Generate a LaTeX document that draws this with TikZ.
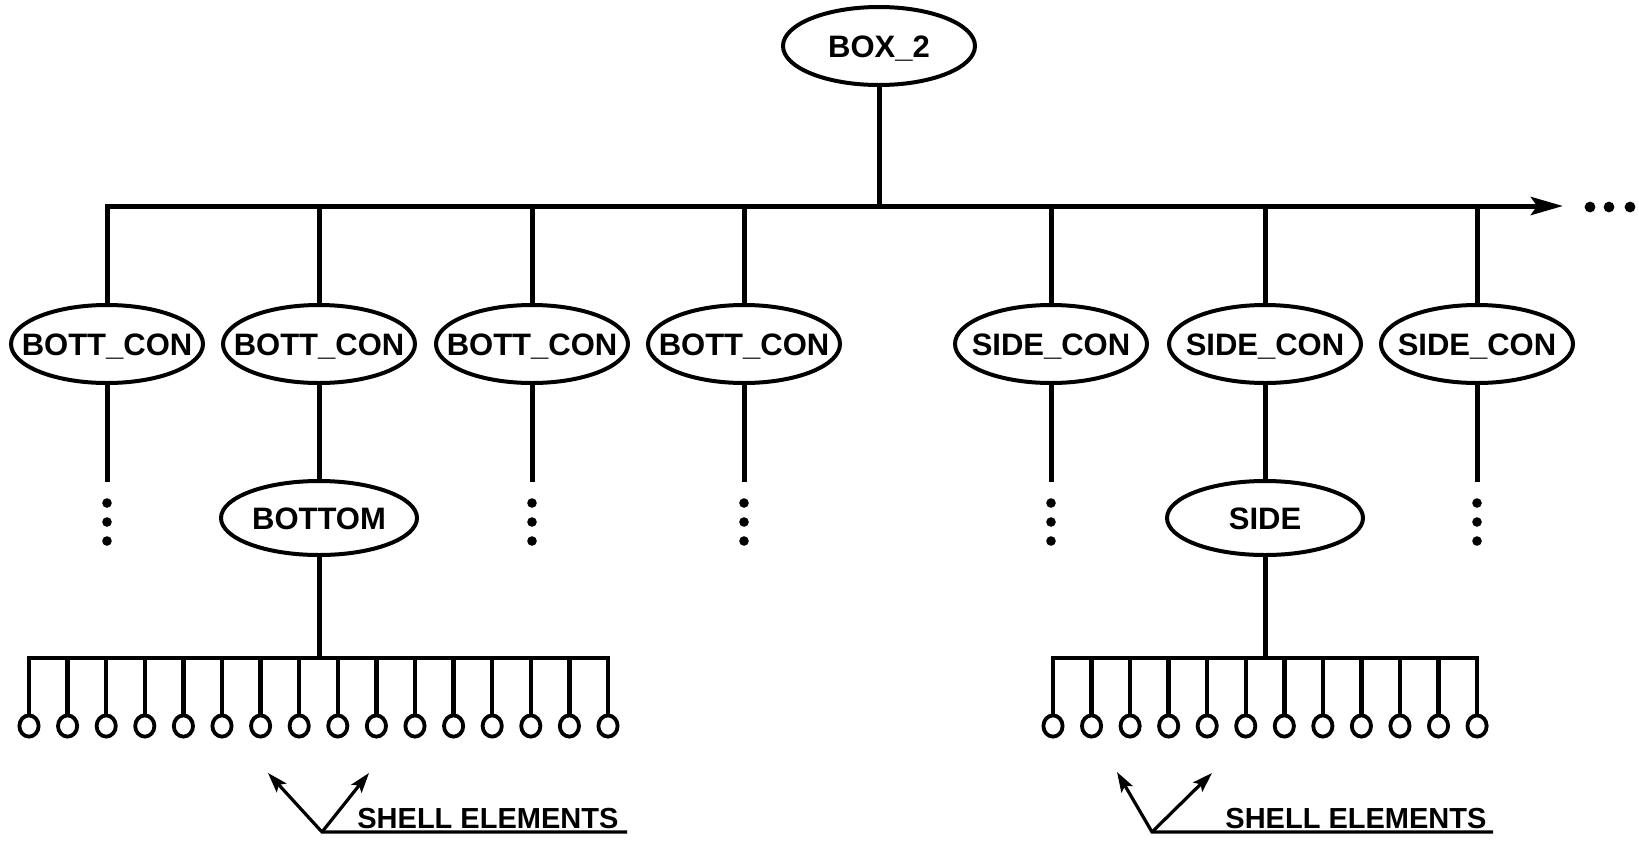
\documentclass[tikz,border=0pt]{standalone}
\usepackage{fontspec}
\setmainfont{Liberation Sans}
\usetikzlibrary{arrows.meta,shapes.geometric,calc}
% zero-width centred label, so the ellipse size comes from the style alone
\newcommand\ctrtext[1]{\makebox[0pt][c]{#1}}
\tikzset{
  leadtip/.tip={Stealth[length=10pt,width=6.5pt,inset=2pt]},
  bustip/.tip={Stealth[length=16pt,width=9pt,inset=3pt]}
}
\begin{document}
\begin{tikzpicture}[x=0.5pt, y=-0.5pt,
  conn/.style={line width=2.5pt},
  comb/.style={line width=2.2pt},
  lead/.style={line width=1.6pt},
  ell/.style={ellipse, draw, line width=2pt, inner sep=0pt,
    minimum width=96pt, minimum height=39pt,
    font=\bfseries\fontsize{15.5}{18}\selectfont, text height=11pt, text depth=0pt},
  lowell/.style={ell, minimum width=98pt, minimum height=37pt},
  elem/.style={ellipse, draw, line width=1.9pt, inner sep=0pt,
    minimum width=9.6pt, minimum height=10.6pt},
  shelltxt/.style={inner sep=0pt, font=\bfseries\fontsize{14.5}{16}\selectfont}
]
\useasboundingbox (0,0) rectangle (1639,842);

% root
\node[ell] (box2) at (879,46) {\ctrtext{BOX\_2}};

% connector level
\node[ell] (bc1) at (107,344)  {\ctrtext{BOTT\_CON}};
\node[ell] (bc2) at (319,344)  {\ctrtext{BOTT\_CON}};
\node[ell] (bc3) at (532,344)  {\ctrtext{BOTT\_CON}};
\node[ell] (bc4) at (744,344)  {\ctrtext{BOTT\_CON}};
\node[ell] (sc1) at (1051,344) {\ctrtext{SIDE\_CON}};
\node[ell] (sc2) at (1265,344) {\ctrtext{SIDE\_CON}};
\node[ell] (sc3) at (1477,344) {\ctrtext{SIDE\_CON}};

% surface level
\node[lowell] (bottom) at (319,518) {\ctrtext{BOTTOM}};
\node[lowell] (side)   at (1265,518) {\ctrtext{SIDE}};

% main bus with continuation arrow
\coordinate (busend) at (1563,206);
\draw[conn, -bustip] (bc1) |- (busend);
\foreach \b in {box2,bc2,bc3,bc4,sc1,sc2,sc3}
  \draw[conn] (\b) -- (\b |- busend);
\foreach \p in {1590,1609,1630}
  \fill (\p,207) circle[radius=2.7pt];

% open branches ending in vertical ellipses
\foreach \b in {bc1,bc3,bc4,sc1,sc3}{
  \draw[conn] (\b) -- ($(\b.center)+(0,138)$);
  \foreach \d in {159,178,197}
    \fill ($(\b.center)+(0,\d)$) circle[radius=2.4pt];
}

% expanded branches
\draw[conn] (bc2) -- (bottom);
\draw[conn] (sc2) -- (side);

% bottom shell elements
\foreach \i in {0,...,15}
  \node[elem] (lp\i) at ({29+38.6*\i},726) {};
\coordinate (lcomb) at (319,658);
\draw[conn] (bottom) -- (lcomb);
\draw[comb] (lp0.north) -- (lp0.north |- lcomb) -- (lp15.north |- lcomb) -- (lp15.north);
\foreach \i in {1,...,14}
  \draw[comb] (lp\i.north) -- (lp\i.north |- lcomb);

% side shell elements
\foreach \i in {0,...,11}
  \node[elem] (rp\i) at ({1053+38.55*\i},726) {};
\coordinate (rcomb) at (1265,658);
\draw[conn] (side) -- (rcomb);
\draw[comb] (rp0.north) -- (rp0.north |- rcomb) -- (rp11.north |- rcomb) -- (rp11.north);
\foreach \i in {1,...,10}
  \draw[comb] (rp\i.north) -- (rp\i.north |- rcomb);

% leader labels
\node[shelltxt, anchor=base west] (shell1) at (357,828) {SHELL ELEMENTS};
\coordinate (v1) at (322,832);
\coordinate (a1) at (268,773);
\coordinate (b1) at (369,773);
\coordinate (u1) at (627,832);
\draw[lead, leadtip-] (a1) -- (v1) -- (u1);
\draw[lead, -leadtip] (v1) -- (b1);

\node[shelltxt, anchor=base west] (shell2) at (1225,828) {SHELL ELEMENTS};
\coordinate (v2) at (1152,832);
\coordinate (a2) at (1117,772);
\coordinate (b2) at (1212,773);
\coordinate (u2) at (1493,832);
\draw[lead, leadtip-] (a2) -- (v2) -- (u2);
\draw[lead, -leadtip] (v2) -- (b2);
\end{tikzpicture}
\end{document}
